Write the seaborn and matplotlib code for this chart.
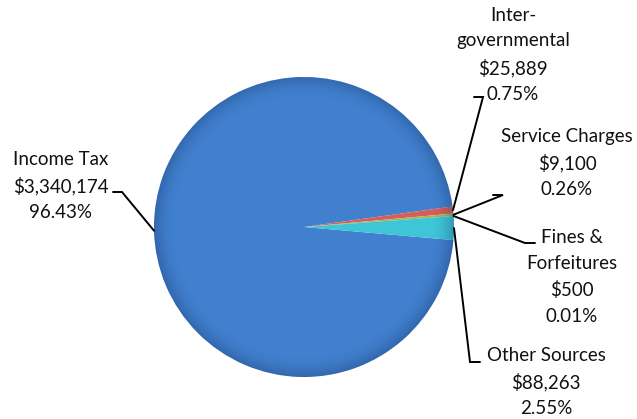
import numpy as np
import matplotlib
matplotlib.use("Agg")
import matplotlib.pyplot as plt
import seaborn as sns

categories = ["Income Tax", "Inter-\ngovernmental", "Service Charges", "Fines &\nForfeitures", "Other Sources"]
amounts = [3340174, 25889, 9100, 500, 88263]
colors = ["#4180CE", "#D85D58", "#9BBB59", "#8064A2", "#3EC5D6"]

sns.set_theme(style="white")
plt.rcParams['font.family'] = ['Lato', 'DejaVu Sans']

W, H = 637, 419
fig = plt.figure(figsize=(W / 100, H / 100), dpi=100)
ax = fig.add_axes([0, 0, 1, 1])

cx, cy, R = 304, 227, 150


def px(x, y):
    return ((x - cx) / R, (cy - y) / R)


wedges, _ = ax.pie(amounts, colors=colors, startangle=-5, counterclock=False,
                   radius=1.0, center=(0, 0),
                   wedgeprops=dict(linewidth=0))

# subtle rim shading for a 3D-like look
n = 400
g = np.linspace(-1, 1, n)
X, Y = np.meshgrid(g, g)
Rr = np.sqrt(X ** 2 + Y ** 2)
alpha = np.clip((Rr - 0.85) / 0.15, 0, 1) ** 2 * 0.28
shade = np.zeros((n, n, 4))
shade[..., 0] = 0.05
shade[..., 1] = 0.15
shade[..., 2] = 0.35
shade[..., 3] = alpha
im = ax.imshow(shade, extent=(-1, 1, -1, 1), origin="lower", zorder=3)
circ = plt.Circle((0, 0), 1.0, transform=ax.transData)
im.set_clip_path(circ)

total = sum(amounts)
labels = [f"{c}\n${a:,.0f}\n{a / total * 100:.2f}%" for c, a in zip(categories, amounts)]

# label layout (pixel positions): text center, elbow, elbow end
layout = [
    dict(text=(61, 186), elbow=(122, 192), end=(113, 192)),
    dict(text=(513, 55), elbow=(483, 97), end=(474, 97)),
    dict(text=(567, 163), elbow=(503, 195), end=(493, 195)),
    dict(text=(572, 277), elbow=(525, 243), end=(535, 243)),
    dict(text=(546, 382), elbow=(470, 362), end=(480, 362)),
]

for w, lab, lay in zip(wedges, labels, layout):
    th = np.deg2rad((w.theta1 + w.theta2) / 2)
    x0, y0 = np.cos(th), np.sin(th)
    ex, ey = px(*lay["elbow"])
    fx, fy = px(*lay["end"])
    ax.plot([x0, ex, fx], [y0, ey, fy], color="black", lw=1.4, zorder=4,
            solid_joinstyle="miter")
    tx, ty = px(*lay["text"])
    ax.text(tx, ty, lab, ha="center", va="center", fontsize=13.5,
            linespacing=1.62, color="#111111", zorder=5)

ax.set_xlim(-cx / R, (W - cx) / R)
ax.set_ylim(-(H - cy) / R, cy / R)
ax.set_aspect("auto")
ax.axis("off")

fig.savefig("out.png", dpi=100, facecolor="white")
